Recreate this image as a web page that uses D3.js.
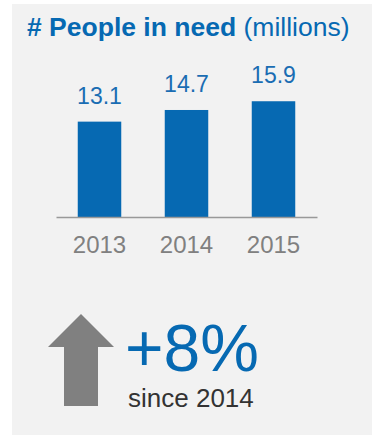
<!DOCTYPE html>
<html>
<head>
<meta charset="utf-8">
<script src="https://cdn.jsdelivr.net/npm/d3@7"></script>
<style>
  body { margin: 0; background: #fff; }
  text { font-family: "Liberation Sans", Arial, sans-serif; }
</style>
</head>
<body>
<svg id="chart"></svg>
<script>
var years = ["2013", "2014", "2015"];
var values = [13.1, 14.7, 15.9];
var changeLabel = "+8%";
var changeNote = "since 2014";

var width = 374;
var height = 435;
var blue = "#0669b2";

var svg = d3.select("#chart").attr("width", width).attr("height", height);

// grey panel
svg.append("rect")
    .attr("x", 12).attr("y", 4)
    .attr("width", 360).attr("height", 431)
    .attr("fill", "#f2f2f2");

// title
var title = svg.append("text")
    .attr("x", 27).attr("y", 36)
    .style("font-size", "26.5px")
    .style("fill", blue);
title.append("tspan").style("font-weight", "bold").text("# People in need");
title.append("tspan").text(" (millions)");

var x = d3.scaleBand()
    .domain(years)
    .range([56, 317])
    .paddingInner(0.5)
    .paddingOuter(0.25);

var y = d3.scaleLinear()
    .domain([0, 20])
    .range([217, 217 - 20 * 7.28]);

svg.append("g")
    .selectAll("rect")
    .data(values)
    .enter().append("rect")
    .attr("x", function (d, i) { return x(years[i]); })
    .attr("y", function (d) { return y(d); })
    .attr("width", x.bandwidth())
    .attr("height", function (d) { return y(0) - y(d); })
    .attr("fill", blue);

svg.append("g")
    .selectAll("text")
    .data(values)
    .enter().append("text")
    .attr("x", function (d, i) { return x(years[i]) + x.bandwidth() / 2; })
    .attr("y", function (d) { return y(d) - 18; })
    .attr("text-anchor", "middle")
    .style("font-size", "23px")
    .style("fill", "#1a6db3")
    .text(function (d) { return d.toFixed(1); });

// baseline axis
var axis = svg.append("g")
    .attr("transform", "translate(0,217)")
    .call(d3.axisBottom(x).tickSize(0));
axis.select(".domain").attr("stroke", "#999").attr("stroke-width", 1.5);
axis.selectAll("text")
    .attr("dy", "0")
    .attr("y", 36)
    .style("font-size", "24px")
    .style("font-family", "Liberation Sans, Arial, sans-serif")
    .style("fill", "#808080");

// up arrow
svg.append("path")
    .attr("d", d3.line()([[81, 314], [114, 347], [98, 347], [98, 406], [64, 406], [64, 347], [48, 347]]) + "Z")
    .attr("fill", "#808080");

svg.append("text")
    .attr("x", 125).attr("y", 371)
    .style("font-size", "66px")
    .style("fill", blue)
    .text(changeLabel);

svg.append("text")
    .attr("x", 128).attr("y", 407)
    .style("font-size", "26px")
    .style("fill", "#333")
    .text(changeNote);
</script>
</body>
</html>
